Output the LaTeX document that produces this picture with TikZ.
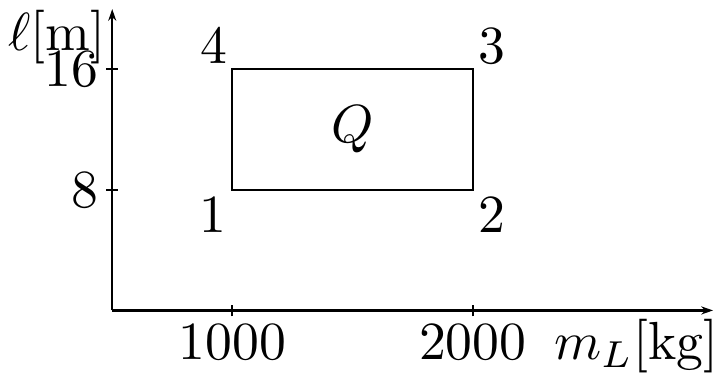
\documentclass[tikz,border=0pt]{standalone}
\usepackage{tikz}
\usetikzlibrary{arrows.meta}
\usepackage{amsmath, amssymb}
\colorlet{rule}{black}
\tikzset{
  axis/.style   ={-{Stealth[length=2.2pt,width=1.5pt]}, rule, line width=0.4pt},
  tick/.style   ={rule, line width=0.4pt},
  region/.style ={draw=rule, line width=0.4pt},
  lbl/.style    ={anchor=base, inner sep=0pt},
  ticklbl/.style={anchor=east, inner sep=0pt},
}

\begin{document}
\begin{tikzpicture}[x=1.574cm, y=0.0987cm]

\useasboundingbox (0.033,-4.17) rectangle (3.008,20.6);

% --- axes ---
\coordinate (O)    at (0.5, 0);
\coordinate (xend) at (3.0, 0);
\coordinate (yend) at (0.5, 20);
\draw[axis] (O) -- (xend);
\draw[axis] (O) -- (yend);

% --- ticks ---
\foreach \xv in {1,2}
  \draw[tick] (\xv,0) ++(0,-1.1pt) -- ++(0,2.2pt);
\foreach \yv in {8,16}
  \draw[tick] (0.5,\yv) ++(-1.1pt,0) -- ++(2.2pt,0);

% --- tick labels ---
\node[lbl] (x1) at (1.0, -3.25) {1000};
\node[lbl] (x2) at (2.0, -3.25) {2000};
\node[ticklbl] (y8)  at (0.448,  8) {8};
\node[ticklbl] (y16) at (0.448, 16) {16};

% --- axis labels ---
\node[lbl] (xlab) at (2.68, -3.25) {$m_L$[kg]};
\node[lbl] (ylab) at (0.27, 17.28) {$\ell$[m]};

% --- region Q ---
\coordinate (c1) at (1, 8);
\coordinate (c2) at (2, 8);
\coordinate (c3) at (2, 16);
\coordinate (c4) at (1, 16);
\draw[region] (c1) -- (c2) -- (c3) -- (c4) -- cycle;
\node (Q) at (1.5, 12) {$Q$};

% --- corner numbers ---
\node[lbl] (n1) at (0.921,  5.2)  {1};
\node[lbl] (n2) at (2.079,  5.2)  {2};
\node[lbl] (n3) at (2.079, 16.42) {3};
\node[lbl] (n4) at (0.925, 16.42) {4};

\end{tikzpicture}
\end{document}
